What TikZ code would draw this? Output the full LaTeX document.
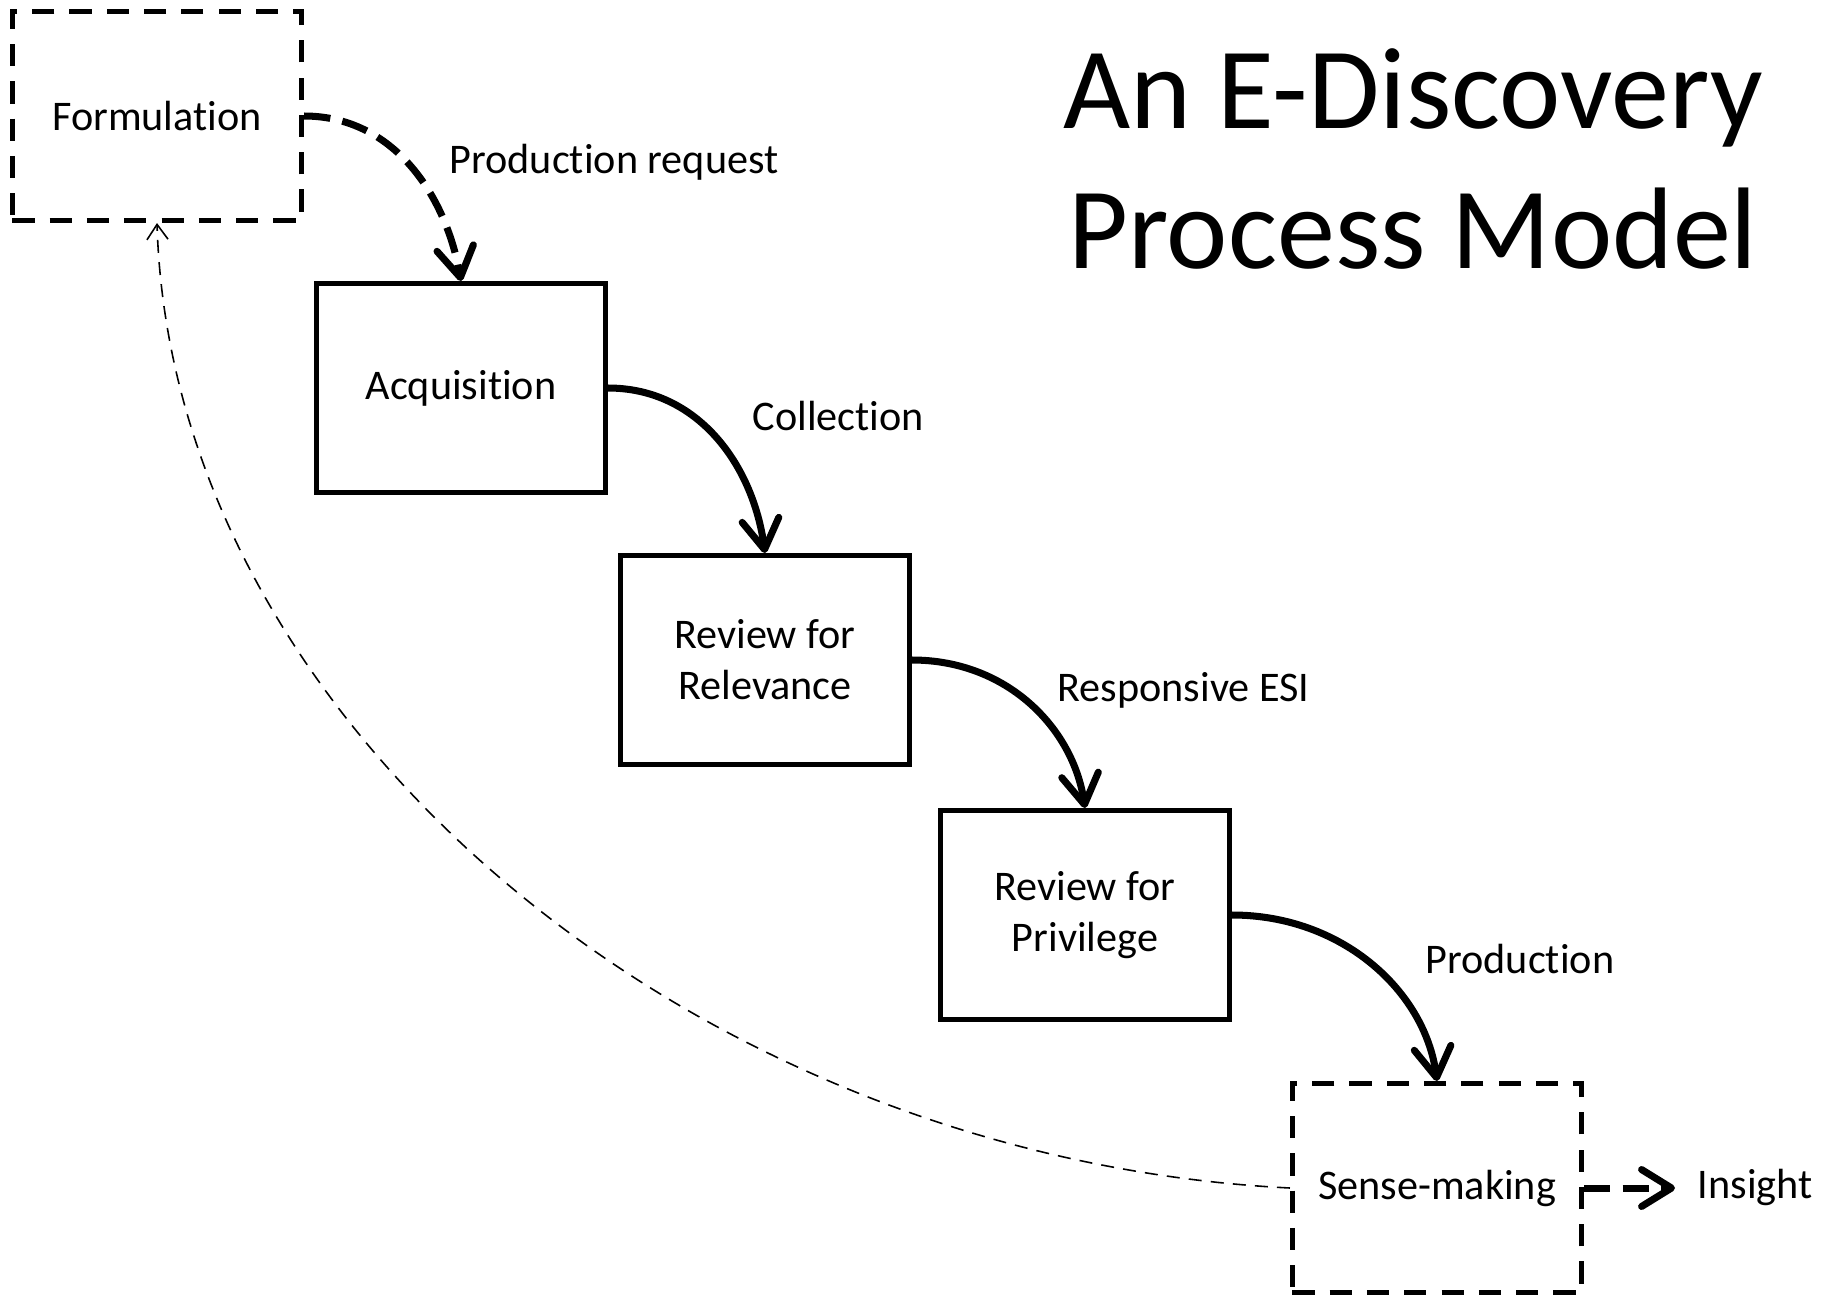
\documentclass[tikz,border=0pt]{standalone}
\usepackage{fontspec}
\setmainfont{Carlito}[RawFeature={-liga}]
\usetikzlibrary{arrows.meta}
\tikzset{
  stagebox/.style={draw, line width=1.4pt, minimum width=2.89cm, minimum height=2.09cm,
    inner sep=0pt, align=center, font=\fontsize{12}{14.5}\selectfont},
  openbox/.style={stagebox, dash pattern=on 6.3pt off 4.3pt},
  flowlabel/.style={anchor=base west, inner sep=0pt, font=\fontsize{12}{14.5}\selectfont},
  titleline/.style={anchor=base, inner sep=0pt, font=\fontsize{33}{40}\selectfont},
  flow/.style={line width=2pt, -{Straight Barb[length=8.5pt,width=10.5pt,round]}},
  dashflow/.style={flow, dash pattern=on 7.5pt off 3.5pt},
  feedback/.style={line width=0.45pt, dash pattern=on 3.7pt off 2.6pt,
    -{Straight Barb[length=4.3pt,width=6pt]}}
}
\begin{document}
\begin{tikzpicture}[x=0.01cm, y=-0.01cm]
  \useasboundingbox (0,0) rectangle (1829,1296);

  % title
  \node[titleline] (titleA) at (1413,128) {An E-Discovery};
  \node[titleline] (titleB) at (1413,268) {Process Model};

  % stages
  \node[openbox]  (form) at (157,116)  {Formulation};
  \node[stagebox] (acq)  at (461,388)  {Acquisition};
  \node[stagebox] (rel)  at (765,660)  {Review for\\Relevance};
  \node[stagebox] (priv) at (1085,915) {Review for\\Privilege};
  \node[openbox]  (sense) at (1437,1188) {Sense-making};
  \coordinate (insightend) at (1675,1188);

  % labels
  \node[flowlabel] (lreq)  at (449,173)  {Production request};
  \node[flowlabel] (lcol)  at (752,430)  {Collection};
  \node[flowlabel] (lresp) at (1057,701) {Responsive ESI};
  \node[flowlabel] (lprod) at (1425,973) {Production};
  \node[flowlabel] (lins)  at (1697,1198) {Insight};

  % connectors
  \draw[dashflow] (form.east) .. controls +(90,0) and +(-15,-85) .. (acq.north);
  \draw[flow] (acq.east) .. controls +(90,0) and +(-12,-88) .. (rel.north);
  \draw[flow] (rel.east) .. controls +(95,0) and +(-12,-80) .. (priv.north);
  \draw[flow] (priv.east) .. controls +(110,0) and +(-12,-90) .. (sense.north);
  \draw[dashflow] (sense.east) -- (insightend);
  \draw[feedback] (sense.west) .. controls (692,1158) and (172,723) .. (form.south);
\end{tikzpicture}
\end{document}
